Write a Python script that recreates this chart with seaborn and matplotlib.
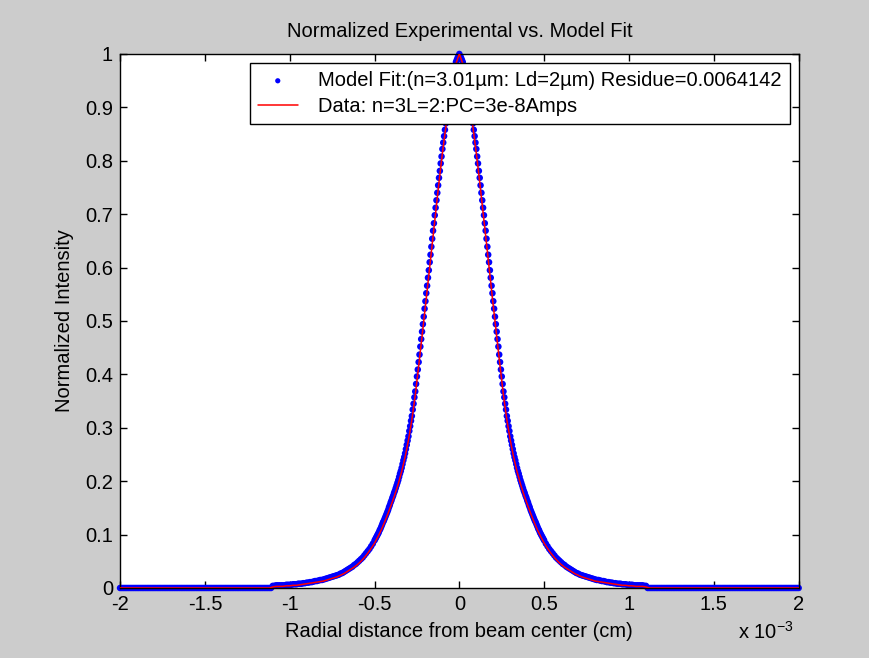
import numpy as np
import pandas as pd
import matplotlib
matplotlib.use("Agg")
import matplotlib.pyplot as plt
import seaborn as sns
from matplotlib.ticker import FuncFormatter

# ---------------- data (radius in units of 1e-3 cm) ----------------
# Model fit, one side of the symmetric profile: r = 0 .. 0.5 step 0.005
model_core = [
    1.000, 0.996, 0.993, 0.989, 0.985, 0.977, 0.970, 0.962, 0.955, 0.945,
    0.935, 0.925, 0.915, 0.904, 0.892, 0.881, 0.870, 0.858, 0.846, 0.834,
    0.822, 0.808, 0.795, 0.781, 0.768, 0.754, 0.740, 0.726, 0.712, 0.698,
    0.683, 0.669, 0.654, 0.639, 0.624, 0.610, 0.595, 0.581, 0.566, 0.552,
    0.537, 0.523, 0.508, 0.494, 0.480, 0.466, 0.452, 0.437, 0.423, 0.409,
    0.396, 0.382, 0.368, 0.357, 0.345, 0.334, 0.322, 0.313, 0.303, 0.294,
    0.284, 0.276, 0.268, 0.260, 0.252, 0.245, 0.239, 0.232, 0.225, 0.219,
    0.214, 0.208, 0.202, 0.197, 0.192, 0.187, 0.182, 0.178, 0.173, 0.169,
    0.164, 0.160, 0.155, 0.151, 0.146, 0.142, 0.138, 0.134, 0.130, 0.126,
    0.123, 0.119, 0.115, 0.111, 0.108, 0.104, 0.101, 0.098, 0.095, 0.092,
    0.089,
]
# Model fit, r = 0.51 .. 1.10 step 0.01
model_tail = [
    0.083, 0.078, 0.073, 0.069, 0.065, 0.061, 0.057, 0.054, 0.051, 0.048,
    0.045, 0.043, 0.040, 0.038, 0.036, 0.034, 0.032, 0.030, 0.028, 0.027,
    0.025, 0.024, 0.023, 0.022, 0.021, 0.020, 0.019, 0.018, 0.017, 0.016,
    0.015, 0.015, 0.014, 0.013, 0.013, 0.012, 0.011, 0.011, 0.010, 0.010,
    0.009, 0.009, 0.008, 0.008, 0.008, 0.007, 0.007, 0.007, 0.006, 0.006,
    0.006, 0.006, 0.005, 0.005, 0.005, 0.005, 0.005, 0.005, 0.004, 0.004,
]
# Measured data, one side: r = 0 .. 1.10 step 0.02
data_side = [
    1.000, 0.982, 0.950, 0.909, 0.863, 0.814, 0.760, 0.703, 0.645, 0.586,
    0.528, 0.471, 0.415, 0.361, 0.315, 0.277, 0.245, 0.218, 0.195, 0.175,
    0.157, 0.140, 0.124, 0.109, 0.096, 0.084, 0.074, 0.065, 0.057, 0.050,
    0.044, 0.039, 0.035, 0.031, 0.027, 0.024, 0.021, 0.019, 0.017, 0.015,
    0.013, 0.012, 0.011, 0.010, 0.009, 0.008, 0.007, 0.006, 0.005, 0.005,
    0.004, 0.004, 0.003, 0.003, 0.003, 0.002,
]
x_ticks = [-2, -1.5, -1, -0.5, 0, 0.5, 1, 1.5, 2]
y_ticks = [0, 0.1, 0.2, 0.3, 0.4, 0.5, 0.6, 0.7, 0.8, 0.9, 1.0]
model_label = "Model Fit:(n=3.01\u00b5m: Ld=2\u00b5m) Residue=0.0064142"
data_label = "Data: n=3L=2:PC=3e-8Amps"

# ---------------- build symmetric profiles ----------------
r_core = np.round(np.arange(len(model_core)) * 0.005, 4)
r_tail = np.round(0.51 + np.arange(len(model_tail)) * 0.01, 4)
r_zero = np.round(np.arange(1.11, 2.0001, 0.01), 4)
r_model = np.concatenate([r_core, r_tail, r_zero])
y_model = np.concatenate([model_core, model_tail, np.zeros(len(r_zero))])
xm = np.concatenate([-r_model[::-1][:-1], r_model])
ym = np.concatenate([y_model[::-1][:-1], y_model])
model_df = pd.DataFrame({"r": xm, "I": ym})

r_data = np.round(np.arange(len(data_side)) * 0.02, 4)
r_dzero = np.round(np.arange(1.12, 2.0001, 0.02), 4)
r_d = np.concatenate([r_data, r_dzero])
y_d = np.concatenate([data_side, np.zeros(len(r_dzero))])
xd = np.concatenate([-r_d[::-1][:-1], r_d])
yd = np.concatenate([y_d[::-1][:-1], y_d])
data_df = pd.DataFrame({"r": xd, "I": yd})

# ---------------- style ----------------
sns.set_theme(style="white")
plt.rcParams["font.family"] = ["Liberation Sans", "DejaVu Sans"]
plt.rcParams["axes.unicode_minus"] = False
plt.rcParams["mathtext.fontset"] = "custom"
plt.rcParams["mathtext.rm"] = "Liberation Sans"
plt.rcParams["mathtext.it"] = "Liberation Sans"

FS = 14.5
fig = plt.figure(figsize=(8.7, 6.58), dpi=100, facecolor="#cccccc")
ax = fig.add_axes([0.138, 0.1064, 0.780, 0.8116])
ax.set_facecolor("white")

sns.scatterplot(data=model_df, x="r", y="I", ax=ax, color="#0000ff",
                marker="o", s=22, edgecolor="none", linewidth=0,
                label=model_label, zorder=2, clip_on=False)
sns.lineplot(data=data_df, x="r", y="I", ax=ax, color="#ff0000",
             linewidth=1.1, label=data_label, estimator=None, zorder=3)

ax.set_xlim(-2, 2)
ax.set_ylim(0, 1)
ax.set_xticks(x_ticks)
ax.set_yticks(y_ticks)
fmt = FuncFormatter(lambda v, p: "{:g}".format(round(v, 3)))
ax.xaxis.set_major_formatter(fmt)
ax.yaxis.set_major_formatter(fmt)
ax.tick_params(direction="in", length=5, width=1, color="black",
               labelsize=FS, labelcolor="black", top=True, right=True,
               bottom=True, left=True, pad=5)
for s in ax.spines.values():
    s.set_color("black")
    s.set_linewidth(1)

ax.set_title("Normalized Experimental vs. Model Fit", fontsize=FS,
             color="black", pad=12)
ax.set_xlabel("Radial distance from beam center (cm)", fontsize=FS,
              color="black", labelpad=6)
ax.set_ylabel("Normalized Intensity", fontsize=FS, color="black",
              labelpad=8)
fig.text(0.848, 0.040, r"x 10$^{-3}$", fontsize=FS, color="black",
         ha="left", va="center")

leg = ax.legend(loc="upper right", bbox_to_anchor=(1, 1), borderaxespad=0.45,
                fancybox=False, edgecolor="black", framealpha=1,
                fontsize=FS, handlelength=2.0, handletextpad=1.0,
                borderpad=0.4, labelspacing=0.35, scatterpoints=1,
                markerscale=0.8)
leg.get_frame().set_linewidth(1)
for t in leg.get_texts():
    t.set_color("black")

fig.savefig("out.png", dpi=100, facecolor=fig.get_facecolor())
